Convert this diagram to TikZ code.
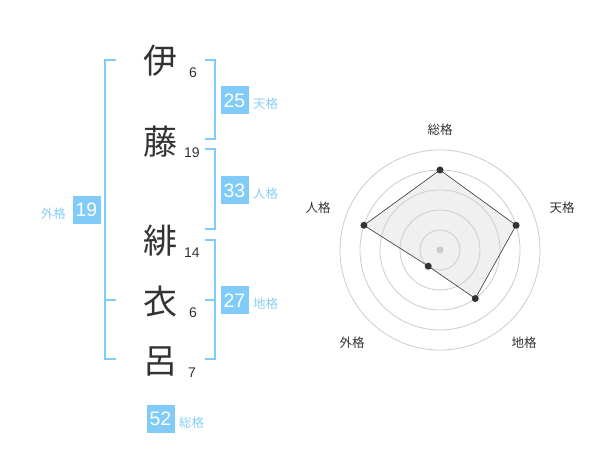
\documentclass[tikz,border=0pt]{standalone}
\usepackage{fontspec}
\setmainfont{Liberation Sans}
\newfontfamily\jpfont{Noto Sans CJK JP}
\usepackage{xcolor}
\definecolor{kakublue}{HTML}{80CBF8}
\definecolor{kakutext}{HTML}{8ACEF5}
\definecolor{inkgray}{HTML}{333333}
\definecolor{ringgray}{HTML}{CCCCCC}
\definecolor{areagray}{HTML}{F0F0F0}
\begin{document}
\begin{tikzpicture}[x=1pt,y=-1pt]
    \tikzstyle{kanji} = [font=\jpfont\fontsize{34}{34}\selectfont, text=inkgray, inner sep=0pt]
    \tikzstyle{stroke} = [font=\fontsize{14}{14}\selectfont, text=inkgray, inner sep=0pt]
    \tikzstyle{kaku} = [fill=kakublue, text=white, minimum size=28pt, inner sep=0pt, font=\fontsize{19.5}{19.5}\selectfont]
    \tikzstyle{kakuname} = [font=\jpfont\fontsize{12.5}{12.5}\selectfont, text=kakutext, inner sep=0pt]
    \tikzstyle{axisname} = [font=\jpfont\fontsize{12.5}{12.5}\selectfont, text=inkgray, inner sep=0pt]
    \tikzstyle{bracket} = [draw=kakublue, line width=2pt]
    \tikzstyle{ring} = [draw=ringgray, line width=0.8pt]
    \tikzstyle{dot} = [fill=inkgray, shape=circle, minimum size=7pt, inner sep=0pt]
    \useasboundingbox (0,0) rectangle (600,470);
    %Name characters and stroke counts
    \node [kanji] at (160,61) (c1) {伊};
    \node [stroke] at (193,73) (n1) {6};
    \node [kanji] at (160,142) (c2) {藤};
    \node [stroke] at (192,153) (n2) {19};
    \node [kanji] at (160,241) (c3) {緋};
    \node [stroke] at (192,253) (n3) {14};
    \node [kanji] at (160,302) (c4) {衣};
    \node [stroke] at (193,313) (n4) {6};
    \node [kanji] at (160,361) (c5) {呂};
    \node [stroke] at (192,373) (n5) {7};
    %Brackets
    \draw[bracket] (205,60) -- (215,60) -- (215,139.5) -- (205,139.5);
    \draw[bracket] (205,149.5) -- (215,149.5) -- (215,229.5) -- (205,229.5);
    \draw[bracket] (205,240) -- (215,240) -- (215,359.5) -- (205,359.5);
    \draw[bracket] (205,300) -- (215,300);
    \draw[bracket] (116,60) -- (105,60) -- (105,359.5) -- (116,359.5);
    \draw[bracket] (105,300) -- (116,300);
    %Fortune boxes
    \node [kaku] at (234.5,100.5) (ten) {25};
    \node [kakuname, right] at (253,104) (tenname) {天格};
    \node [kaku] at (234.5,190.5) (jin) {33};
    \node [kakuname, right] at (253,194) (jinname) {人格};
    \node [kaku] at (234.5,300.5) (chi) {27};
    \node [kakuname, right] at (253,304) (chiname) {地格};
    \node [kaku] at (86.5,210) (gai) {19};
    \node [kakuname, left] at (66,214) (gainame) {外格};
    \node [kaku] at (160.5,419) (sou) {52};
    \node [kakuname, right] at (179,423) (souname) {総格};
    %Radar chart
    \begin{scope}[shift={(440,250)}, y=1pt]
        \coordinate (psou) at (90:80);
        \coordinate (pten) at (18:80);
        \coordinate (pchi) at (-54:60);
        \coordinate (pgai) at (-126:20);
        \coordinate (pjin) at (162:80);
        \fill[areagray] (psou) -- (pten) -- (pchi) -- (pgai) -- (pjin) -- cycle;
        \foreach \r in {20,40,60,80,100}
            \draw[ring] (0,0) circle (\r);
        \draw[draw=inkgray, line width=0.6pt] (psou) -- (pten) -- (pchi) -- (pgai) -- (pjin) -- cycle;
        \fill[ringgray] (0,0) circle (3.5);
        \foreach \p in {psou,pten,pchi,pgai,pjin}
            \node [dot] at (\p) {};
        \node [axisname] at (0,120) (asou) {総格};
        \node [axisname] at (122,42) (aten) {天格};
        \node [axisname] at (84,-93) (achi) {地格};
        \node [axisname] at (-88,-93) (agai) {外格};
        \node [axisname] at (-122,42) (ajin) {人格};
    \end{scope}
\end{tikzpicture}
\end{document}
